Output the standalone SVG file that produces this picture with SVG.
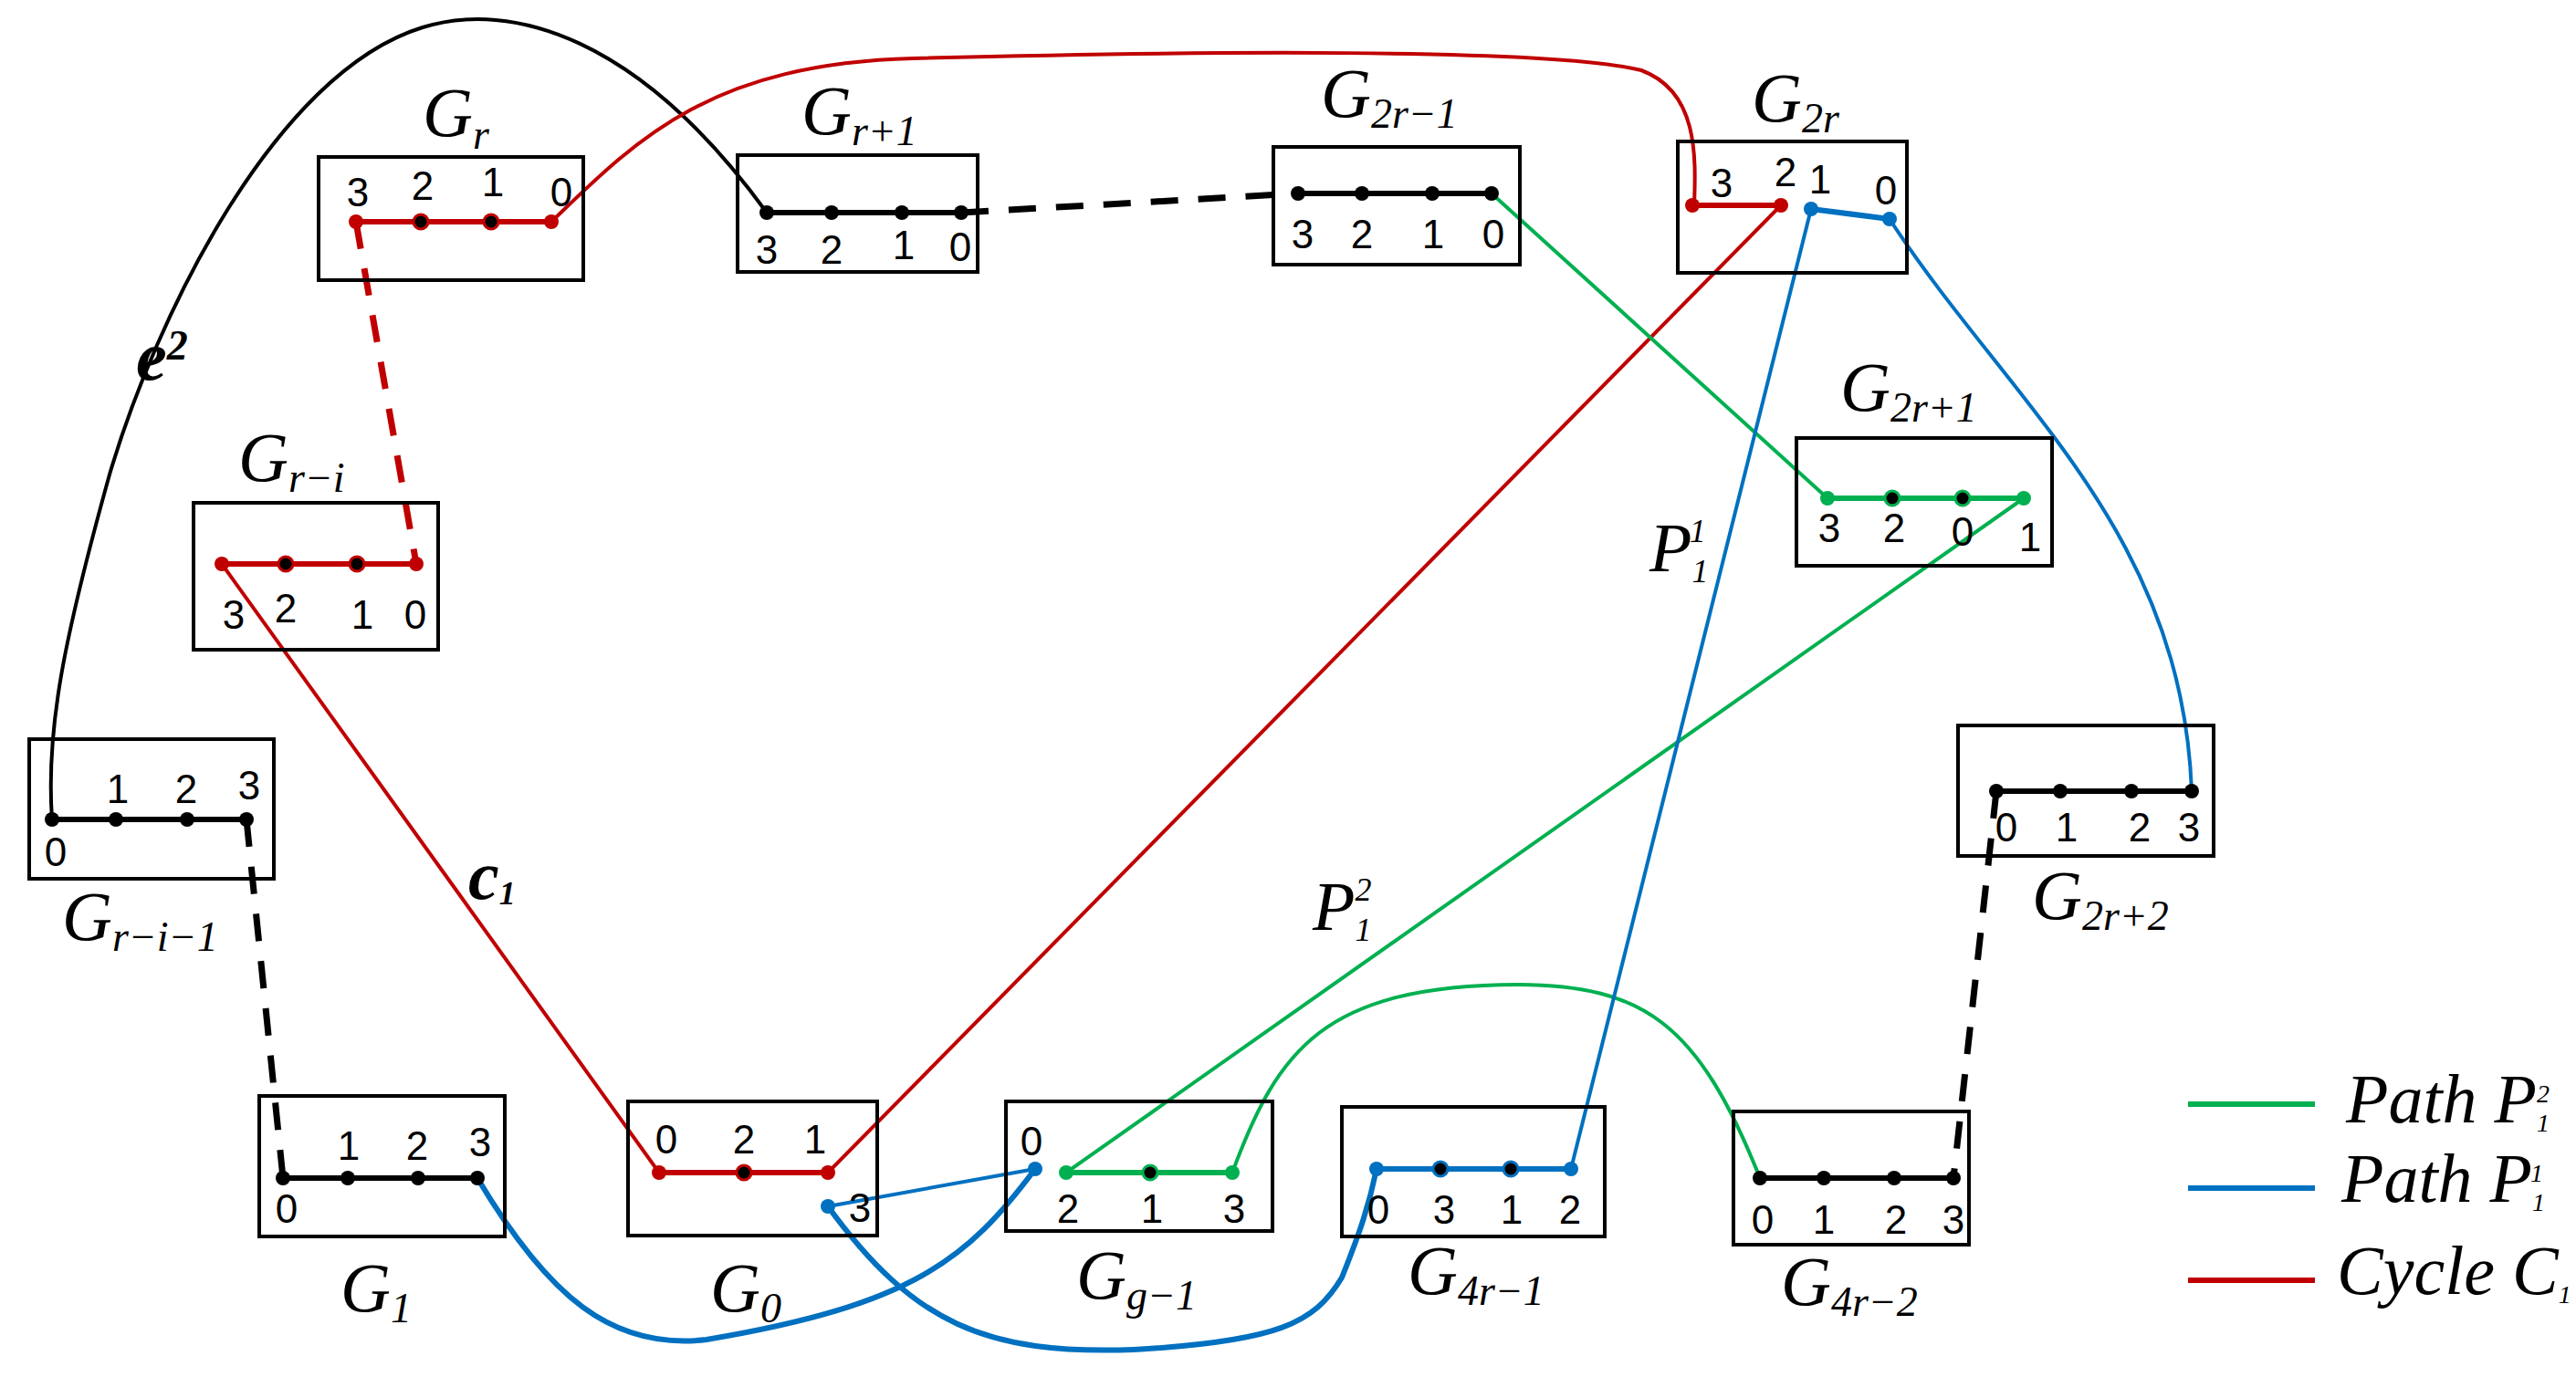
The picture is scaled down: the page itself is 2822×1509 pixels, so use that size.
<svg xmlns="http://www.w3.org/2000/svg" width="2822" height="1509" viewBox="0 0 2822 1509">
<style>
.box{fill:none;stroke:#000;stroke-width:4}
.d{font-family:"Liberation Sans",Arial,sans-serif;font-size:44px;text-anchor:middle}
.lab{font-family:"Liberation Serif","Times New Roman",serif;font-style:italic;font-size:76px}
.sub{font-size:46px}
.k{stroke:#000}.r{stroke:#c00000}.g{stroke:#00b050}.b{stroke:#0070c0}
.e{stroke-width:6;fill:none}
.c{stroke-width:4;fill:none}
.dash{stroke-width:7;fill:none;stroke-dasharray:30 22}
</style>
<rect width="2822" height="1509" fill="#fff"/>
<g id="connectors">
<path class="c k" d="M840,233 C700,40 560,0 463,30 C300,80 170,350 120,520 C70,700 50,800 57,898"/>
<path class="c r" d="M604,243 C700,150 780,70 1000,64 C1300,56 1700,52 1798,77 C1860,100 1858,170 1856,225"/>
<path class="dash r" d="M390,243 L456,618"/>
<path class="dash k" d="M270,898 L310,1291"/>
<path class="dash k" d="M1053,233 L1422,212"/>
<path class="dash k" d="M2187,867 L2140,1291"/>
<path class="c r" d="M243,618 L722,1285"/>
<path class="c r" d="M907,1285 L1951,225"/>
<path class="c g" d="M1634,212 L2002,546"/>
<path class="c g" d="M2217,546 L1168,1285"/>
<path class="c g" d="M1350,1285 C1400,1150 1450,1080 1663,1079 C1800,1080 1860,1120 1928,1291"/>
<path class="c b" d="M1984,229 L1721,1281"/>
<path class="c b" d="M2070,240 C2200,440 2390,580 2401,867"/>
<path class="c b" d="M907,1322 L1134,1281"/>
<path class="e b" d="M523,1291 C600,1420 670,1480 774,1468 C1000,1430 1060,1380 1134,1281"/>
<path class="e b" d="M907,1322 C1000,1450 1080,1485 1242,1479 C1400,1470 1440,1450 1470,1400 C1490,1350 1500,1320 1508,1281"/>
</g>
<g id="Gr">
<rect class="box" x="349" y="172" width="290" height="135"/>
<path class="e r" d="M390,243H604"/>
<circle cx="390" cy="243" r="8" fill="#c00000"/><circle cx="461" cy="243" r="8" fill="#000" stroke="#c00000" stroke-width="3"/><circle cx="538" cy="243" r="8" fill="#000" stroke="#c00000" stroke-width="3"/><circle cx="604" cy="243" r="8" fill="#c00000"/>
<text class="d" x="392" y="226">3</text><text class="d" x="463" y="219">2</text><text class="d" x="540" y="215">1</text><text class="d" x="615" y="226">0</text>
<text class="lab" x="463" y="149">G<tspan class="sub" dy="14">r</tspan></text>
</g>
<g id="Gr1">
<rect class="box" x="808" y="170" width="263" height="128"/>
<path class="e k" d="M840,233H1053"/>
<circle cx="840" cy="233" r="8"/><circle cx="911" cy="233" r="8"/><circle cx="988" cy="233" r="8"/><circle cx="1053" cy="233" r="8"/>
<text class="d" x="840" y="289">3</text><text class="d" x="911" y="289">2</text><text class="d" x="990" y="284">1</text><text class="d" x="1052" y="286">0</text>
<text class="lab" x="878" y="147">G<tspan class="sub" dy="12">r+1</tspan></text>
</g>
<g id="G2r1m">
<rect class="box" x="1395" y="161" width="270" height="129"/>
<path class="e k" d="M1422,212H1634"/>
<circle cx="1422" cy="212" r="8"/><circle cx="1492" cy="212" r="8"/><circle cx="1569" cy="212" r="8"/><circle cx="1634" cy="212" r="8"/>
<text class="d" x="1427" y="272">3</text><text class="d" x="1492" y="272">2</text><text class="d" x="1570" y="272">1</text><text class="d" x="1636" y="272">0</text>
<text class="lab" x="1447" y="128">G<tspan class="sub" dy="12">2r−1</tspan></text>
</g>
<g id="G2r">
<rect class="box" x="1838" y="155" width="251" height="144"/>
<path class="e r" d="M1854,225H1951"/>
<path class="e b" d="M1984,229L2070,240"/>
<circle cx="1854" cy="225" r="8" fill="#c00000"/><circle cx="1951" cy="225" r="8" fill="#c00000"/>
<circle cx="1984" cy="229" r="8" fill="#0070c0"/><circle cx="2070" cy="240" r="8" fill="#0070c0"/>
<text class="d" x="1886" y="216">3</text><text class="d" x="1956" y="204">2</text><text class="d" x="1994" y="212">1</text><text class="d" x="2066" y="224">0</text>
<text class="lab" x="1919" y="133">G<tspan class="sub" dy="12">2r</tspan></text>
</g>
<g id="G2r1p">
<rect class="box" x="1968" y="480" width="280" height="140"/>
<path class="e g" d="M2002,546H2217"/>
<circle cx="2002" cy="546" r="8" fill="#00b050"/><circle cx="2073" cy="546" r="8" fill="#000" stroke="#00b050" stroke-width="3"/><circle cx="2150" cy="546" r="8" fill="#000" stroke="#00b050" stroke-width="3"/><circle cx="2217" cy="546" r="8" fill="#00b050"/>
<text class="d" x="2004" y="594">3</text><text class="d" x="2075" y="594">2</text><text class="d" x="2150" y="598">0</text><text class="d" x="2224" y="604">1</text>
<text class="lab" x="2016" y="450">G<tspan class="sub" dy="12">2r+1</tspan></text>
</g>
<g id="Gri">
<rect class="box" x="212" y="551" width="268" height="161"/>
<path class="e r" d="M243,618H456"/>
<circle cx="243" cy="618" r="8" fill="#c00000"/><circle cx="313" cy="618" r="8" fill="#000" stroke="#c00000" stroke-width="3"/><circle cx="391" cy="618" r="8" fill="#000" stroke="#c00000" stroke-width="3"/><circle cx="456" cy="618" r="8" fill="#c00000"/>
<text class="d" x="256" y="689">3</text><text class="d" x="313" y="682">2</text><text class="d" x="397" y="689">1</text><text class="d" x="455" y="689">0</text>
<text class="lab" x="261" y="527">G<tspan class="sub" dy="12">r−i</tspan></text>
</g>
<g id="Gri1">
<rect class="box" x="32" y="810" width="268" height="153"/>
<path class="e k" d="M57,898H270"/>
<circle cx="57" cy="898" r="8"/><circle cx="127" cy="898" r="8"/><circle cx="205" cy="898" r="8"/><circle cx="270" cy="898" r="8"/>
<text class="d" x="129" y="880">1</text><text class="d" x="204" y="880">2</text><text class="d" x="273" y="876">3</text><text class="d" x="61" y="949">0</text>
<text class="lab" x="68" y="1030">G<tspan class="sub" dy="12">r−i−1</tspan></text>
</g>
<g id="G1">
<rect class="box" x="284" y="1201" width="269" height="154"/>
<path class="e k" d="M310,1291H523"/>
<circle cx="310" cy="1291" r="8"/><circle cx="381" cy="1291" r="8"/><circle cx="458" cy="1291" r="8"/><circle cx="523" cy="1291" r="8"/>
<text class="d" x="382" y="1271">1</text><text class="d" x="457" y="1271">2</text><text class="d" x="526" y="1267">3</text><text class="d" x="314" y="1340">0</text>
<text class="lab" x="373" y="1437">G<tspan class="sub" dy="12">1</tspan></text>
</g>
<g id="G0">
<rect class="box" x="688" y="1207" width="273" height="147"/>
<path class="e r" d="M722,1285H907"/>
<circle cx="722" cy="1285" r="8" fill="#c00000"/><circle cx="815" cy="1285" r="8" fill="#000" stroke="#c00000" stroke-width="3"/><circle cx="907" cy="1285" r="8" fill="#c00000"/>
<circle cx="907" cy="1322" r="8" fill="#0070c0"/>
<text class="d" x="730" y="1264">0</text><text class="d" x="815" y="1264">2</text><text class="d" x="893" y="1264">1</text><text class="d" x="942" y="1339">3</text>
<text class="lab" x="778" y="1437">G<tspan class="sub" dy="12">0</tspan></text>
</g>
<g id="Gg1">
<rect class="box" x="1102" y="1207" width="292" height="142"/>
<path class="e g" d="M1168,1285H1350"/>
<circle cx="1134" cy="1281" r="8" fill="#0070c0"/>
<circle cx="1168" cy="1285" r="8" fill="#00b050"/><circle cx="1260" cy="1285" r="8" fill="#000" stroke="#00b050" stroke-width="3"/><circle cx="1350" cy="1285" r="8" fill="#00b050"/>
<text class="d" x="1130" y="1266">0</text><text class="d" x="1170" y="1340">2</text><text class="d" x="1262" y="1340">1</text><text class="d" x="1352" y="1340">3</text>
<text class="lab" x="1179" y="1423">G<tspan class="sub" dy="12">g−1</tspan></text>
</g>
<g id="G4r1">
<rect class="box" x="1470" y="1213" width="288" height="142"/>
<path class="e b" d="M1508,1281H1721"/>
<circle cx="1508" cy="1281" r="8" fill="#0070c0"/><circle cx="1578" cy="1281" r="8" fill="#000" stroke="#0070c0" stroke-width="3"/><circle cx="1655" cy="1281" r="8" fill="#000" stroke="#0070c0" stroke-width="3"/><circle cx="1721" cy="1281" r="8" fill="#0070c0"/>
<text class="d" x="1510" y="1341">0</text><text class="d" x="1582" y="1341">3</text><text class="d" x="1656" y="1341">1</text><text class="d" x="1720" y="1341">2</text>
<text class="lab" x="1542" y="1418">G<tspan class="sub" dy="12">4r−1</tspan></text>
</g>
<g id="G4r2">
<rect class="box" x="1899" y="1218" width="258" height="146"/>
<path class="e k" d="M1928,1291H2140"/>
<circle cx="1928" cy="1291" r="8"/><circle cx="1998" cy="1291" r="8"/><circle cx="2075" cy="1291" r="8"/><circle cx="2140" cy="1291" r="8"/>
<text class="d" x="1931" y="1352">0</text><text class="d" x="1998" y="1352">1</text><text class="d" x="2077" y="1352">2</text><text class="d" x="2140" y="1352">3</text>
<text class="lab" x="1951" y="1430">G<tspan class="sub" dy="12">4r−2</tspan></text>
</g>
<g id="G2r2">
<rect class="box" x="2145" y="795" width="280" height="143"/>
<path class="e k" d="M2187,867H2401"/>
<circle cx="2187" cy="867" r="8"/><circle cx="2257" cy="867" r="8"/><circle cx="2335" cy="867" r="8"/><circle cx="2401" cy="867" r="8" fill="#000"/>
<text class="d" x="2198" y="922">0</text><text class="d" x="2264" y="922">1</text><text class="d" x="2344" y="922">2</text><text class="d" x="2398" y="922">3</text>
<text class="lab" x="2226" y="1007">G<tspan class="sub" dy="12">2r+2</tspan></text>
</g>
<g id="labels">
<text class="lab" x="149" y="416" font-weight="bold" font-size="52">e<tspan class="sub" font-size="34" dy="-22">2</tspan></text>
<text class="lab" x="513" y="985" font-weight="bold" font-size="56">c<tspan font-size="36" dy="6">1</tspan></text>
<text class="lab" x="1807" y="626" font-size="66">P<tspan font-size="36" dy="12">1</tspan><tspan font-size="36" dx="-18" dy="-44">1</tspan></text>
<text class="lab" x="1438" y="1019" font-size="66">P<tspan font-size="36" dy="12">1</tspan><tspan font-size="36" dx="-18" dy="-44">2</tspan></text>
</g>
<g id="legend">
<path class="e g" d="M2397,1210H2536"/>
<path class="e b" d="M2397,1302H2536"/>
<path class="e r" d="M2397,1403H2536"/>
<text class="lab" x="2570" y="1230" font-size="50">Path P<tspan font-size="28" dy="10">1</tspan><tspan font-size="28" dx="-14" dy="-32">2</tspan></text>
<text class="lab" x="2565" y="1317" font-size="50">Path P<tspan font-size="28" dy="10">1</tspan><tspan font-size="28" dx="-14" dy="-32">1</tspan></text>
<text class="lab" x="2560" y="1418" font-size="50">Cycle C<tspan font-size="28" dy="10">1</tspan></text>
</g>
</svg>
